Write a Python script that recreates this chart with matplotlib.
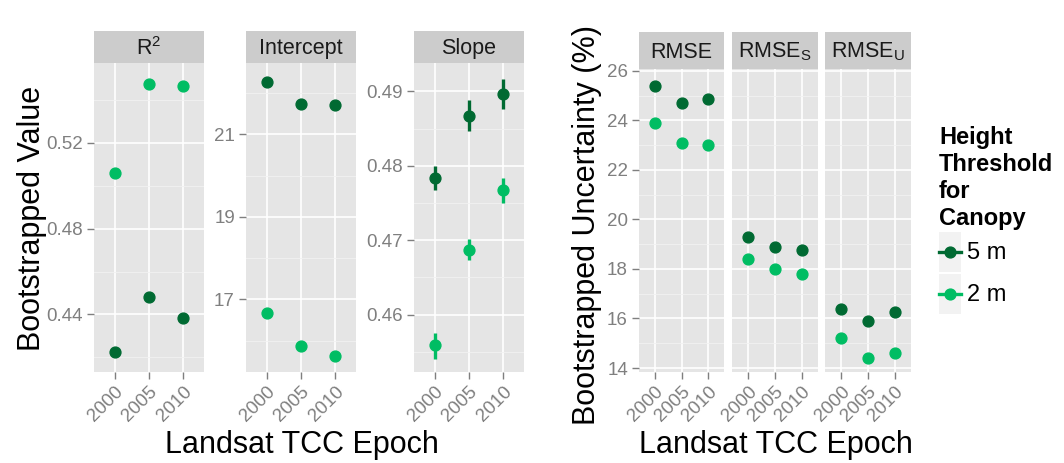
import numpy as np
import matplotlib
matplotlib.use('Agg')
import matplotlib.pyplot as plt
from matplotlib.lines import Line2D
from matplotlib.patches import Rectangle
from matplotlib.legend_handler import HandlerBase
from matplotlib.ticker import FormatStrFormatter

plt.rcParams['font.family'] = ['Liberation Sans', 'DejaVu Sans']
plt.rcParams['mathtext.fontset'] = 'custom'
plt.rcParams['mathtext.rm'] = 'Liberation Sans'
plt.rcParams['mathtext.it'] = 'Liberation Sans:italic'
plt.rcParams['mathtext.bf'] = 'Liberation Sans:bold'

# ---------------- data ----------------
epochs = ['2000', '2005', '2010']
groups = ['5 m', '2 m']

r2_5m = [0.4226, 0.4479, 0.4383]
r2_2m = [0.5058, 0.5474, 0.5465]

int_5m = [22.28, 21.74, 21.70]
int_2m = [16.68, 15.88, 15.63]

slope_5m = [0.4783, 0.4867, 0.4897]
slope_5m_lo = [0.4767, 0.4847, 0.4876]
slope_5m_hi = [0.4800, 0.4888, 0.4917]
slope_2m = [0.4559, 0.4687, 0.4767]
slope_2m_lo = [0.4541, 0.4674, 0.4750]
slope_2m_hi = [0.4576, 0.4702, 0.4783]

rmse_5m = [25.40, 24.69, 24.87]
rmse_2m = [23.89, 23.08, 22.99]
rmses_5m = [19.27, 18.87, 18.78]
rmses_2m = [18.39, 17.99, 17.79]
rmseu_5m = [16.38, 15.91, 16.28]
rmseu_2m = [15.21, 14.40, 14.60]

# ---------------- style ----------------
DARK = '#006a32'
LIGHT = '#00bd63'
GREY_TXT = '#7f7f7f'

W, H = 1064, 463
fig = plt.figure(figsize=(W / 100, H / 100), dpi=100)


def rect(x0, x1, y0, y1):
    return [x0 / W, 1 - y1 / H, (x1 - x0) / W, (y1 - y0) / H]


def panel(x0, x1, top, bottom, strip_top, title, ylim, major, minor, fmt,
          s5, s2, err5=None, err2=None, show_y=True):
    ax = fig.add_axes(rect(x0, x1, top, bottom))
    ax.set_facecolor('#E5E5E5')
    for s in ax.spines.values():
        s.set_visible(False)
    x = np.arange(1, len(epochs) + 1)
    ax.set_xlim(0.4, len(epochs) + 0.6)
    ax.set_xticks(x)
    ax.set_xticklabels(epochs, rotation=45, ha='right', va='top',
                       rotation_mode='anchor')
    ax.set_ylim(*ylim)
    ax.set_yticks(major)
    ax.set_yticks(minor, minor=True)
    ax.yaxis.set_major_formatter(FormatStrFormatter(fmt))
    ax.grid(which='major', color='white', lw=1.2)
    ax.grid(which='minor', axis='y', color='#F2F2F2', lw=0.6)
    ax.set_axisbelow(True)
    ax.tick_params(which='major', color=GREY_TXT, length=5, width=1,
                   labelcolor=GREY_TXT, labelsize=13.5, pad=3)
    ax.tick_params(which='minor', length=0)
    if not show_y:
        ax.tick_params(axis='y', which='both', length=0, labelleft=False)
    if err5 is not None:
        ax.vlines(x, err5[0], err5[1], color=DARK, lw=2.4, zorder=3)
    if err2 is not None:
        ax.vlines(x, err2[0], err2[1], color=LIGHT, lw=2.4, zorder=3)
    ax.plot(x, s5, 'o', color=DARK, ms=7.8, zorder=4)
    ax.plot(x, s2, 'o', color=LIGHT, ms=7.8, zorder=4)
    sax = fig.add_axes(rect(x0, x1, strip_top, top))
    sax.set_facecolor('#CCCCCC')
    sax.set_xticks([])
    sax.set_yticks([])
    for s in sax.spines.values():
        s.set_visible(False)
    sax.text(0.5, 0.45, title, ha='center', va='center', fontsize=15.5,
             color='#1a1a1a', transform=sax.transAxes)
    return ax


# left figure
panel(94, 204, 63, 372, 31, r'R$^\mathregular{2}$', (0.4132, 0.5571),
      [0.44, 0.48, 0.52], [0.42, 0.46, 0.50, 0.54], '%.2f', r2_5m, r2_2m)
panel(246, 356, 63, 372, 31, 'Intercept', (15.24, 22.73),
      [17, 19, 21], [16, 18, 20, 22], '%d', int_5m, int_2m)
panel(414, 524, 63, 372, 31, 'Slope', (0.4523, 0.4938),
      [0.46, 0.47, 0.48, 0.49], [0.455, 0.465, 0.475, 0.485], '%.2f',
      slope_5m, slope_2m, (slope_5m_lo, slope_5m_hi), (slope_2m_lo, slope_2m_hi))

# right figure
rlim = (13.84, 26.07)
rmaj = [14, 16, 18, 20, 22, 24, 26]
rmin = [15, 17, 19, 21, 23, 25]
panel(639, 724, 69, 372, 31.5, 'RMSE', rlim, rmaj, rmin, '%d', rmse_5m, rmse_2m)
panel(732, 818, 69, 372, 31.5, r'RMSE$_\mathregular{S}$', rlim, rmaj, rmin, '%d',
      rmses_5m, rmses_2m, show_y=False)
panel(825, 911, 69, 372, 31.5, r'RMSE$_\mathregular{U}$', rlim, rmaj, rmin, '%d',
      rmseu_5m, rmseu_2m, show_y=False)

# axis titles
fig.text(32 / W, 1 - 218 / H, 'Bootstrapped Value', rotation=90, fontsize=22,
         ha='center', va='center')
fig.text(302 / W, 1 - 445 / H, 'Landsat TCC Epoch', fontsize=22,
         ha='center', va='center')
fig.text(587 / W, 1 - 225 / H, 'Bootstrapped Uncertainty (%)', rotation=90,
         fontsize=22, ha='center', va='center')
fig.text(776 / W, 1 - 445 / H, 'Landsat TCC Epoch', fontsize=22,
         ha='center', va='center')


# legend with ggplot-like keys (grey key background, point + line)
class KeyHandler(HandlerBase):
    def create_artists(self, legend, orig_handle, xdescent, ydescent,
                       width, height, fontsize, trans):
        x0, y0 = -xdescent, -ydescent
        bg = Rectangle((x0, y0), width, height, facecolor='#F2F2F2',
                       edgecolor='none', transform=trans)
        yc = y0 + height / 2
        col = orig_handle.get_color()
        ln = Line2D([x0, x0 + width], [yc, yc], color=col, lw=2.4,
                    transform=trans)
        mk = Line2D([x0 + width / 2], [yc], marker='o', ms=7.8, color=col,
                    lw=0, transform=trans)
        return [bg, ln, mk]


handles = [Line2D([], [], color=DARK), Line2D([], [], color=LIGHT)]
leg = fig.legend(handles, groups, loc='upper left',
                 bbox_to_anchor=(939 / W, 1 - 126 / H),
                 title='Height\nThreshold\nfor\nCanopy',
                 title_fontproperties={'weight': 'bold', 'size': 17},
                 fontsize=17, frameon=False, alignment='left',
                 handler_map={Line2D: KeyHandler()},
                 handlelength=0.95, handleheight=2.2, handletextpad=0.25,
                 labelspacing=0.1, borderpad=0, borderaxespad=0)
leg.get_title().set_linespacing(1.22)

fig.savefig('out.png', dpi=100)
